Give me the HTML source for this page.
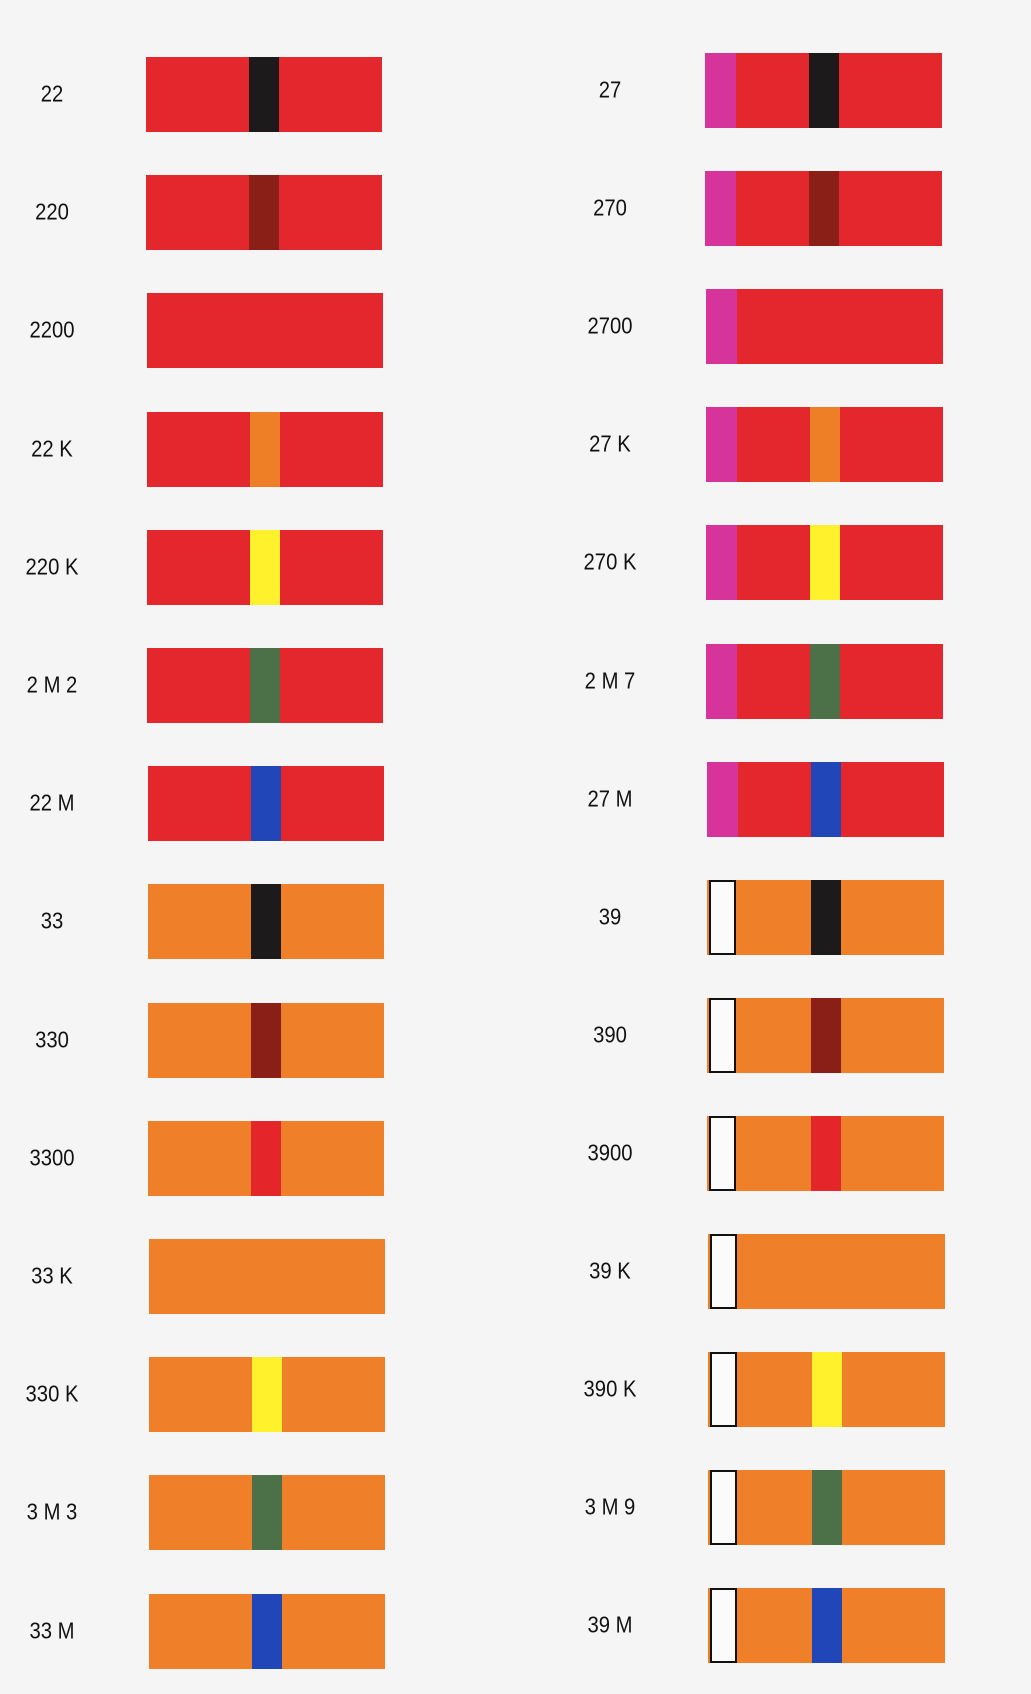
<!DOCTYPE html>
<html><head><meta charset="utf-8"><style>
body{margin:0;width:1031px;height:1694px;background:#f6f5f5;position:relative;overflow:hidden;font-family:"Liberation Sans",sans-serif}
.lbl{position:absolute;font-size:23px;color:#111;transform:translate(-50%,-50%) scaleX(0.88);white-space:nowrap}
.r{position:absolute;height:75px}
.s{position:absolute;top:0;height:100%}
</style></head><body>
<div id="root"></div>
<script>
const leftLabels=["22","220","2200","22 K","220 K","2 M 2","22 M","33","330","3300","33 K","330 K","3 M 3","33 M"];
const rightLabels=["27","270","2700","27 K","270 K","2 M 7","27 M","39","390","3900","39 K","390 K","3 M 9","39 M"];
const stripes=["#1c1a1a","#8a1f18",null,"#ef7f26","#fff22c","#4c7148","#2046b8","#1c1a1a","#8a1f18","#e4262b",null,"#fff22c","#4c7148","#2046b8"];
const bodies=["#e4272c","#e4272c","#e4272c","#e4272c","#e4272c","#e4272c","#e4272c","#ef7f28","#ef7f28","#ef7f28","#ef7f28","#ef7f28","#ef7f28","#ef7f28"];
const root=document.getElementById('root');
function mk(cls,st){const d=document.createElement('div');d.className=cls;Object.assign(d.style,st);return d;}
for(let i=0;i<leftLabels.length;i++){
  const ly=57+i*118.2, lx=146+i*0.25;
  const L=mk('lbl',{left:'52px',top:(ly+37)+'px'});L.textContent=leftLabels[i];
  
  
  root.appendChild(L);
  const R=mk('r',{left:lx+'px',top:ly+'px',width:'236px',background:bodies[i]});
  
  
  if(stripes[i]){const s=mk('s',{left:'103px',width:'30px',background:stripes[i]});
    
    
    R.appendChild(s);}
  root.appendChild(R);
  const ry=53+i*118.1, rx=705+i*0.25;
  const L2=mk('lbl',{left:'610px',top:(ry+37)+'px'});L2.textContent=rightLabels[i];
  
  
  root.appendChild(L2);
  const R2=mk('r',{left:rx+'px',top:ry+'px',width:'237px',background:bodies[i]});
  
  
  const tag=i<7?mk('s',{left:'0',width:'31px',background:'#d6349b'}):mk('s',{left:'2px',width:'27px',background:'#fbfbfb',border:'2px solid #111',boxSizing:'border-box'});
  
  
  R2.appendChild(tag);
  if(stripes[i]){const s=mk('s',{left:'104px',width:'30px',background:stripes[i]});
    
    
    R2.appendChild(s);}
  root.appendChild(R2);
}
</script>
</body></html>
